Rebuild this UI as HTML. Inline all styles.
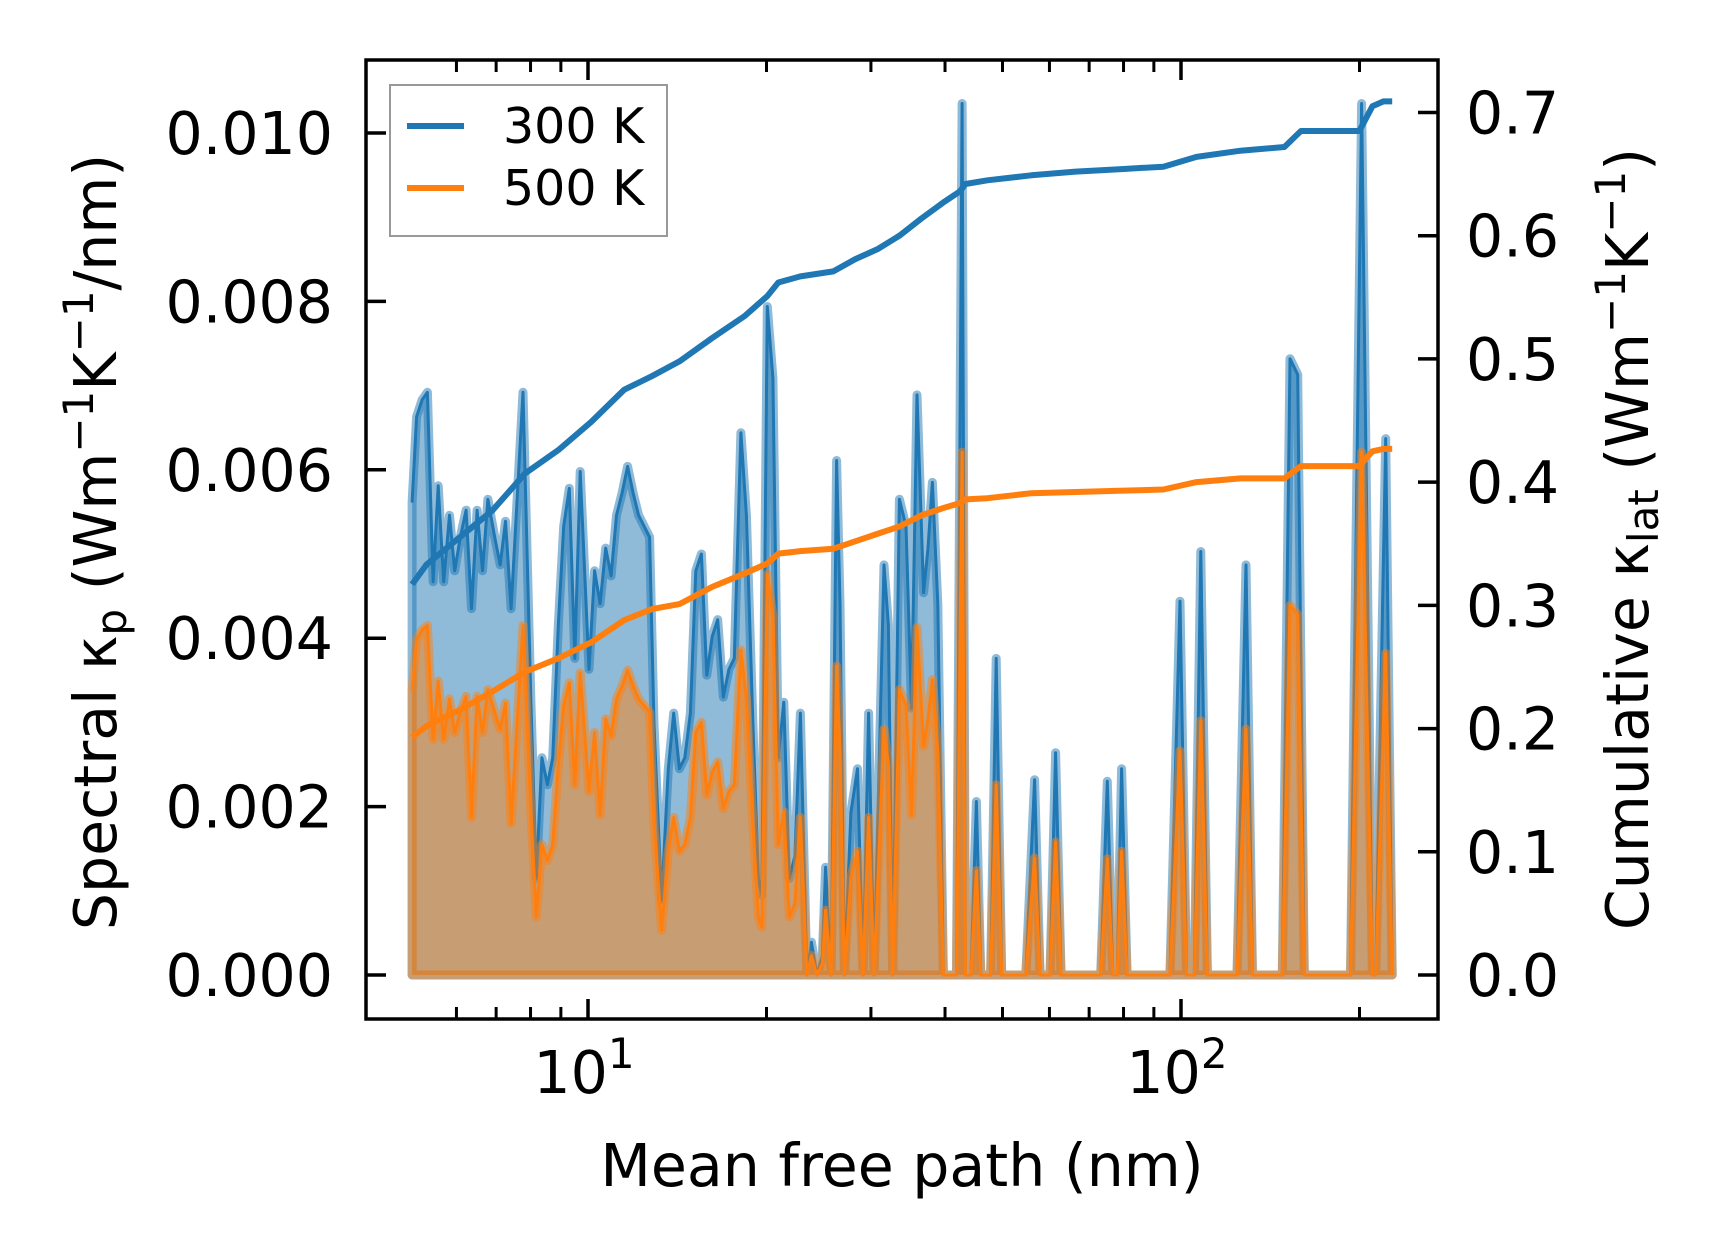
<!DOCTYPE html>
<html><head><meta charset="utf-8"><style>
html,body{margin:0;padding:0;background:#fff;}
svg{display:block;font-family:"DejaVu Sans","Liberation Sans",sans-serif;}
</style></head><body>
<svg id="chart" width="1716" height="1254" viewBox="0 0 1716 1254" xmlns="http://www.w3.org/2000/svg">
<g id="fills"></g>
<g id="cumul"></g>
<g id="axes"></g>
</svg>
<script>
const mfp = [5.05,5.14,5.25,5.36,5.48,5.59,5.71,5.84,5.96,6.09,6.23,6.36,6.50,6.64,6.78,6.96,7.11,7.26,7.42,7.77,8.01,8.18,8.36,8.54,8.72,8.91,9.10,9.30,9.50,9.70,10.04,10.26,10.48,10.71,10.94,11.17,11.41,11.66,11.92,12.17,12.70,12.92,13.31,13.66,13.95,14.26,14.56,14.88,15.20,15.53,15.86,16.20,16.55,16.91,17.28,17.65,18.11,18.50,18.97,19.38,19.64,20.06,20.50,20.94,21.39,21.85,22.33,22.81,23.40,23.81,24.32,24.85,25.16,25.70,26.26,26.60,27.06,27.76,28.48,29.10,29.73,30.37,31.56,32.10,32.65,33.50,34.37,35.12,35.87,36.81,37.44,38.08,38.90,39.75,40.77,41.83,42.74,43.29,44.22,45.18,45.96,47.16,47.75,48.79,49.84,54.74,56.64,57.86,60.14,61.44,62.77,73.20,75.10,76.74,78.06,79.40,81.12,95.8,99.6,102.2,105.3,108.0,110.8,124.3,128.7,132.0,148.2,152.7,157.3,161.4,193.1,201.6,210.3,213.0,221.4,227.1];
const spec300 = [.00561,.00663,.00683,.00692,.00467,.00581,.00467,.00546,.00480,.00520,.00552,.00435,.00552,.00480,.00565,.00520,.00487,.00539,.00435,.00692,.00324,.00115,.00258,.00226,.00258,.00415,.00533,.00578,.00376,.00598,.00363,.00480,.00441,.00507,.00474,.00546,.00572,.00604,.00572,.00546,.00520,.00298,.00089,.00245,.00311,.00245,.00258,.00311,.00480,.00500,.00356,.00402,.00422,.00330,.00363,.00376,.00644,.00546,.00298,.00115,.00095,.00794,.00709,.00258,.00324,.00115,.00141,.00311,0,.00039,0,.00023,.00128,0,.00611,.00441,0,.00193,.00245,0,.00311,0,.00487,.00415,0,.00565,.00533,.00317,.00689,.00454,.00507,.00585,.00441,0,0,0,.01035,0,0,.00206,0,0,0,.00376,0,0,.00232,0,0,.00264,0,0,.00230,0,0,.00245,0,0,.00444,0,0,.00503,0,0,.00487,0,0,.00732,.00713,0,0,.01035,0,0,.00637,0];
const spec500 = [.00337,.00398,.00410,.00415,.00280,.00349,.00280,.00328,.00288,.00312,.00331,.00187,.00331,.00288,.00339,.00312,.00292,.00323,.00180,.00415,.00194,.00069,.00155,.00136,.00155,.00249,.00320,.00347,.00226,.00359,.00218,.00288,.00190,.00304,.00284,.00328,.00343,.00362,.00343,.00328,.00312,.00179,.00053,.00147,.00187,.00147,.00155,.00187,.00288,.00300,.00214,.00241,.00253,.00198,.00218,.00226,.00386,.00328,.00179,.00069,.00057,.00476,.00425,.00155,.00194,.00069,.00085,.00187,0,.00023,0,.00014,.00077,0,.00367,.00265,0,.00116,.00147,0,.00187,0,.00292,.00249,0,.00339,.00320,.00190,.00413,.00272,.00304,.00351,.00265,0,0,0,.00621,0,0,.00124,0,0,0,.00226,0,0,.00139,0,0,.00158,0,0,.00138,0,0,.00147,0,0,.00266,0,0,.00302,0,0,.00292,0,0,.00439,.00428,0,0,.00621,0,0,.00382,0];
const cumMfp = [5.05,5.34,6.07,6.90,7.83,8.91,10.13,11.51,12.81,14.26,16.20,18.4,20.06,20.94,22.81,25.92,28.23,30.75,33.50,36.5,39.75,42.38,43.29,47.16,55.94,66.4,78.7,93.4,106.2,126.0,149.4,159.3,199.8,210.3,219.5,227.1];
const cum300 = [.317,.333,.355,.377,.407,.426,.449,.475,.486,.498,.517,.535,.551,.562,.567,.571,.581,.589,.600,.614,.627,.636,.642,.645,.649,.652,.654,.656,.664,.669,.672,.685,.685,.705,.709,.709];
const cum500 = [.193,.202,.215,.230,.246,.257,.270,.288,.297,.301,.315,.326,.334,.342,.344,.346,.352,.358,.364,.373,.379,.383,.386,.387,.391,.392,.393,.394,.400,.403,.403,.413,.413,.425,.427,.427];
const leftTicks = [0,0.002,0.004,0.006,0.008,0.010];
const leftTickLabels = ["0.000","0.002","0.004","0.006","0.008","0.010"];
const rightTicks = [0,0.1,0.2,0.3,0.4,0.5,0.6,0.7];
const rightTickLabels = ["0.0","0.1","0.2","0.3","0.4","0.5","0.6","0.7"];
const xMajor = [10,100];
const xMajorExp = ["1","2"];
const xMinor = [6,7,8,9,20,30,40,50,60,70,80,90,200];

const L=366,R=1438,T=60,B=1019;
const xs = v => 588 + (Math.log10(v)-1)*593;
const yl = v => 975 - v/0.010*842;
const yr = v => 975 - v/0.7*862.5;
const NS="http://www.w3.org/2000/svg";
function mk(tag, attrs, parent){const e=document.createElementNS(NS,tag);for(const k in attrs)e.setAttribute(k,attrs[k]);parent.appendChild(e);return e;}
const fills=document.getElementById('fills'), cumul=document.getElementById('cumul'), axes=document.getElementById('axes');

function spectral(vals,color,name){
  let pts=mfp.map((m,i)=>xs(m).toFixed(1)+','+yl(vals[i]).toFixed(1));
  const poly=mk('polygon',{points:xs(mfp[0]).toFixed(1)+','+yl(0)+' '+pts.join(' ')+' '+xs(mfp[mfp.length-1]).toFixed(1)+','+yl(0),fill:color,'fill-opacity':0.5,stroke:color,'stroke-opacity':0.5,'stroke-width':9,'stroke-linejoin':'round'},fills);
  
  
  const line=mk('polyline',{points:pts.join(' '),fill:'none',stroke:color,'stroke-width':3,'stroke-linejoin':'round'},fills);
  
  
}
spectral(spec300,'#1f77b4','spectral-300k');
spectral(spec500,'#ff7f0e','spectral-500k');

function cum(vals,color,name){
  const pts=cumMfp.map((m,i)=>xs(m).toFixed(1)+','+yr(vals[i]).toFixed(1)).join(' ');
  const l=mk('polyline',{points:pts,fill:'none',stroke:color,'stroke-width':6,'stroke-linejoin':'round'},cumul);
  
  
}
cum(cum300,'#1f77b4','cumulative-300k');
cum(cum500,'#ff7f0e','cumulative-500k');

const fr=mk('rect',{x:L,y:T,width:R-L,height:B-T,fill:'none',stroke:'#000','stroke-width':3.5},axes);



leftTicks.forEach((v,i)=>{
  const y=yl(v);
  mk('line',{x1:L,x2:L+20,y1:y,y2:y,stroke:'#000','stroke-width':3.5},axes);
  const t=mk('text',{x:333,y:y+21,'text-anchor':'end','font-size':58.5},axes);
  t.textContent=leftTickLabels[i];
  
  
});
rightTicks.forEach((v,i)=>{
  const y=yr(v);
  mk('line',{x1:R-20,x2:R,y1:y,y2:y,stroke:'#000','stroke-width':3.5},axes);
  const t=mk('text',{x:1466,y:y+21,'text-anchor':'start','font-size':58.5},axes);
  t.textContent=rightTickLabels[i];
  
  
});
xMajor.forEach((v,i)=>{
  const x=xs(v);
  mk('line',{x1:x,x2:x,y1:B,y2:B-20,stroke:'#000','stroke-width':3.5},axes);
  mk('line',{x1:x,x2:x,y1:T,y2:T+20,stroke:'#000','stroke-width':3.5},axes);
  const t=mk('text',{x:x-4,y:1093,'text-anchor':'middle','font-size':58.5},axes);
  
  
  const a=mk('tspan',{},t);a.textContent='10';
  const b=mk('tspan',{dy:-25,'font-size':42},t);b.textContent=xMajorExp[i];
});
xMinor.forEach(v=>{
  const x=xs(v);
  mk('line',{x1:x,x2:x,y1:B,y2:B-12,stroke:'#000','stroke-width':3},axes);
  mk('line',{x1:x,x2:x,y1:T,y2:T+12,stroke:'#000','stroke-width':3},axes);
});
</script>
<svg style="position:absolute;left:0;top:0" width="1716" height="1254" xmlns="http://www.w3.org/2000/svg">
  <g>
    <rect x="390" y="85" width="277" height="151" fill="#fff" fill-opacity="0.8" stroke="#999" stroke-width="2"/>
    <line x1="407" y1="126" x2="464" y2="126" stroke="#1f77b4" stroke-width="6"/>
    <text x="503" y="143" font-size="49" font-family="DejaVu Sans, Liberation Sans, sans-serif">300 K</text>
    <line x1="407" y1="188" x2="464" y2="188" stroke="#ff7f0e" stroke-width="6"/>
    <text x="503" y="205" font-size="49" font-family="DejaVu Sans, Liberation Sans, sans-serif">500 K</text>
  </g>
  <text x="902" y="1186" text-anchor="middle" font-size="58.5" font-family="DejaVu Sans, Liberation Sans, sans-serif">Mean free path (nm)</text>
  <text transform="translate(116,542) rotate(-90)" text-anchor="middle" font-size="58.5" font-family="DejaVu Sans, Liberation Sans, sans-serif">Spectral κ<tspan font-size="42" dy="10">p</tspan><tspan dy="-10"> (Wm</tspan><tspan font-size="42" dy="-23">−1</tspan><tspan dy="23">K</tspan><tspan font-size="42" dy="-23">−1</tspan><tspan dy="23">/nm)</tspan></text>
  <text transform="translate(1648,539) rotate(-90)" text-anchor="middle" font-size="58.5" font-family="DejaVu Sans, Liberation Sans, sans-serif">Cumulative κ<tspan font-size="42" dy="10">lat</tspan><tspan dy="-10"> (Wm</tspan><tspan font-size="42" dy="-23">−1</tspan><tspan dy="23">K</tspan><tspan font-size="42" dy="-23">−1</tspan><tspan dy="23">)</tspan></text>
</svg>
</body></html>
